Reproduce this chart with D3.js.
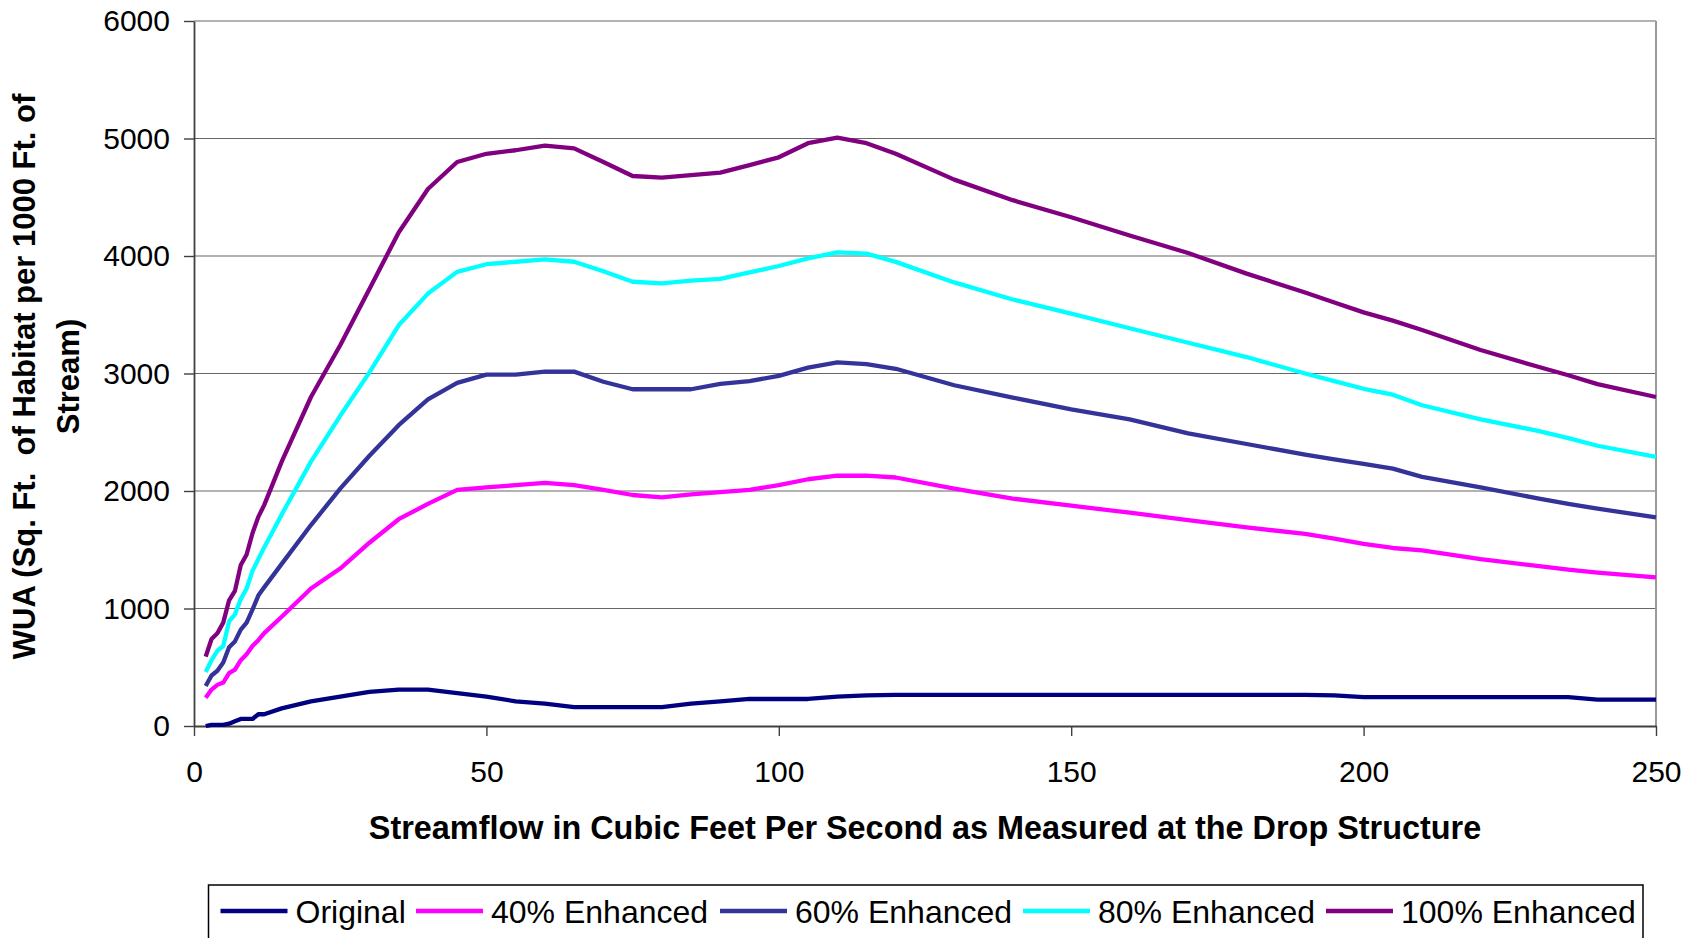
<!DOCTYPE html>
<html>
<head>
<meta charset="utf-8">
<script src="https://cdn.jsdelivr.net/npm/d3@7/dist/d3.min.js"></script>
<style>
  html, body { margin: 0; padding: 0; background: #fff; }
  svg { display: block; font-family: "Liberation Sans", Arial, sans-serif; }
</style>
</head>
<body>
<svg id="chart" width="1703" height="938"></svg>
<script>
// ---- Data ----
const flow = [2,3,4,5,6,7,8,9,10,11,12,15,20,25,30,35,40,45,50,55,60,65,70,75,80,85,90,95,100,105,110,115,120,130,140,150,160,170,180,190,195,200,205,210,220,230,235,240,250];

const original = [0,10,10,10,20,40,60,60,60,100,100,150,210,250,290,310,310,280,250,210,190,160,160,160,160,190,210,230,230,230,250,260,265,265,265,265,265,265,265,265,260,245,245,245,245,245,245,225,225];

const enh40 = [240,310,350,370,450,480,560,610,680,730,790,930,1170,1340,1560,1760,1890,2010,2030,2050,2070,2050,2010,1966,1946,1972,1990,2010,2050,2100,2130,2130,2115,2020,1935,1875,1815,1753,1690,1635,1595,1550,1515,1495,1420,1360,1330,1305,1265];

const enh60 = [340,430,470,540,670,720,820,880,990,1110,1180,1380,1710,2020,2300,2560,2780,2920,2990,2990,3016,3016,2930,2866,2866,2866,2911,2935,2980,3050,3095,3080,3040,2900,2795,2695,2610,2490,2400,2310,2270,2230,2190,2120,2030,1935,1890,1850,1775];

const enh80 = [460,560,640,680,890,950,1080,1170,1320,1420,1520,1800,2250,2640,3010,3410,3680,3865,3930,3951,3972,3951,3870,3781,3767,3790,3806,3860,3915,3980,4030,4020,3950,3775,3630,3510,3385,3262,3140,3000,2935,2870,2820,2730,2610,2510,2450,2385,2290];

const enh100 = [590,740,790,880,1070,1150,1370,1460,1640,1780,1880,2250,2800,3240,3720,4200,4570,4800,4870,4900,4939,4916,4800,4681,4667,4689,4710,4774,4840,4960,5007,4960,4870,4650,4475,4330,4175,4025,3850,3690,3605,3520,3450,3370,3200,3055,2985,2910,2800];

const seriesNames = ["Original", "40% Enhanced", "60% Enhanced", "80% Enhanced", "100% Enhanced"];
const seriesValues = [original, enh40, enh60, enh80, enh100];
const seriesColors = ["#000080", "#FF00FF", "#333399", "#00FFFF", "#800080"];

const xTicks = [0, 50, 100, 150, 200, 250];
const yTicks = [0, 1000, 2000, 3000, 4000, 5000, 6000];

const xTitle = "Streamflow in Cubic Feet Per Second as Measured at the Drop Structure";
const yTitle1 = "WUA (Sq. Ft.  of Habitat per 1000 Ft. of";
const yTitle2 = "Stream)";

// ---- Layout ----
const svg = d3.select("#chart");
const plot = { left: 194, right: 1656, top: 21, bottom: 726 };

const x = d3.scaleLinear().domain([0, 250]).range([plot.left, plot.right]);
const y = d3.scaleLinear().domain([0, 6000]).range([plot.bottom, plot.top]);

// Gridlines
svg.append("g")
  .selectAll("line")
  .data(yTicks.filter(d => d > 0))
  .join("line")
  .attr("x1", plot.left).attr("x2", plot.right)
  .attr("y1", d => y(d)).attr("y2", d => y(d))
  .attr("stroke", "#666").attr("stroke-width", 1.2);

// Right plot border
svg.append("line")
  .attr("x1", plot.right).attr("x2", plot.right)
  .attr("y1", plot.top).attr("y2", plot.bottom)
  .attr("stroke", "#9a9a9a").attr("stroke-width", 2);

// Axes
const xAxis = d3.axisBottom(x).tickValues(xTicks).tickSize(10).tickPadding(25).tickSizeOuter(0).tickFormat(d3.format("d"));
const yAxis = d3.axisLeft(y).tickValues(yTicks).tickSize(10).tickPadding(14).tickSizeOuter(0).tickFormat(d3.format("d"));

const gx = svg.append("g").attr("transform", `translate(0,${plot.bottom})`).call(xAxis);
const gy = svg.append("g").attr("transform", `translate(${plot.left},0)`).call(yAxis);

[gx, gy].forEach(g => {
  g.select(".domain").attr("stroke", "#404040").attr("stroke-width", 1.8);
  g.selectAll(".tick line").attr("stroke", "#404040").attr("stroke-width", 1.4);
  g.selectAll(".tick text")
    .attr("fill", "#000")
    .style("font-family", '"Liberation Sans", Arial, sans-serif')
    .style("font-size", "30px");
});

// Lines
const line = d3.line()
  .x((d, i) => x(flow[i]))
  .y(d => y(d));

svg.append("g")
  .selectAll("path")
  .data(seriesValues)
  .join("path")
  .attr("d", d => line(d))
  .attr("fill", "none")
  .attr("stroke", (d, i) => seriesColors[i])
  .attr("stroke-width", 4.3)
  .attr("stroke-linejoin", "round")
  .attr("stroke-linecap", "butt");

// Axis titles
svg.append("text")
  .attr("x", (plot.left + plot.right) / 2)
  .attr("y", 839)
  .attr("text-anchor", "middle")
  .style("font-weight", "bold")
  .style("font-size", "32.4px")
  .text(xTitle);

const yt = svg.append("g").attr("transform", `translate(0,${(plot.top + plot.bottom) / 2 + 3}) rotate(-90)`);
yt.append("text")
  .attr("x", 0).attr("y", 35)
  .attr("text-anchor", "middle")
  .style("font-weight", "bold")
  .style("font-size", "31px")
  .style("white-space", "pre")
  .attr("xml:space", "preserve")
  .text(yTitle1);
yt.append("text")
  .attr("x", 0).attr("y", 79)
  .attr("text-anchor", "middle")
  .style("font-weight", "bold")
  .style("font-size", "31px")
  .text(yTitle2);

// Legend
const legend = svg.append("g");
legend.append("rect")
  .attr("x", 208.5).attr("y", 885)
  .attr("width", 1434.5).attr("height", 80)
  .attr("fill", "#fff")
  .attr("stroke", "#000").attr("stroke-width", 1.5);

const legendLineX = [220.5, 416, 720, 1023, 1326];
const items = legend.selectAll("g.item")
  .data(seriesNames)
  .join("g")
  .attr("class", "item")
  .attr("transform", (d, i) => `translate(${legendLineX[i]},911)`);
items.append("line")
  .attr("x1", 0).attr("x2", 67)
  .attr("y1", 0).attr("y2", 0)
  .attr("stroke", (d, i) => seriesColors[i])
  .attr("stroke-width", 4.5);
items.append("text")
  .attr("x", 75).attr("y", 0)
  .attr("dy", "0.36em")
  .style("font-size", "32px")
  .text(d => d);
</script>
</body>
</html>
